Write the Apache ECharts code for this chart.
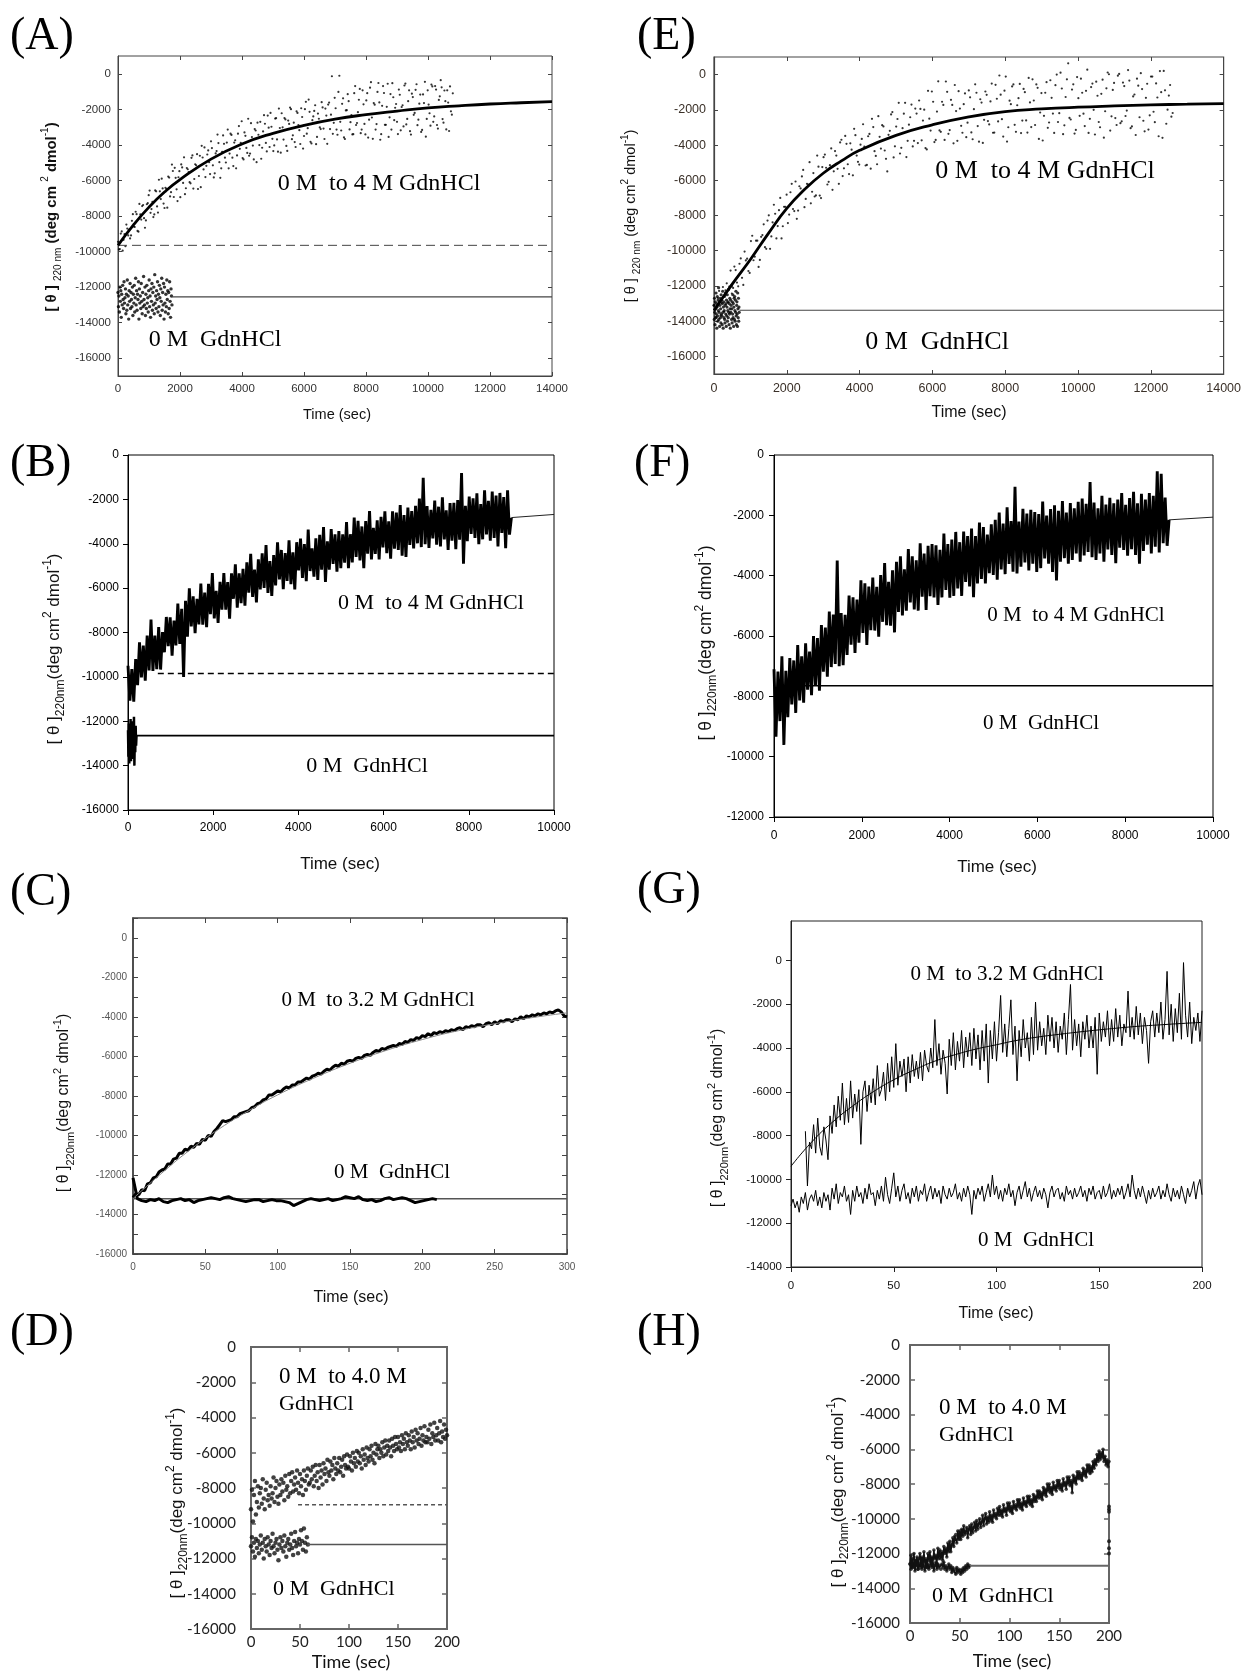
<!DOCTYPE html>
<html><head><meta charset="utf-8">
<script src="https://cdn.jsdelivr.net/npm/echarts@6/dist/echarts.min.js"></script>
<style>html,body{margin:0;padding:0;background:#fff}#c{width:1244px;height:1673px}</style>
</head><body><div id="c"></div>
<script>
// ================= DATA =================
const yTicks16 = [0,-2000,-4000,-6000,-8000,-10000,-12000,-14000,-16000];
const yTicks14 = [0,-2000,-4000,-6000,-8000,-10000,-12000,-14000];

// ---- Panel A ----
const aRiseStep = 60;
const aRiseV = [-9450,-9860,-8870,-9340,-9700,-8710,-8770,-9090,-7900,-8620,
-7900,-8880,-7910,-7440,-8120,-8250,-7280,-6570,-7610,-8060,
-6560,-7460,-5960,-7050,-6450,-7550,-6470,-5780,-6900,-5110,
-6930,-5850,-7160,-5480,-5100,-6140,-6770,-5300,-5530,-6160,
-4590,-5920,-5150,-6480,-4610,-4050,-5380,-5810,-4540,-4970,
-3800,-5150,-5600,-4350,-3900,-5850,-4390,-3940,-4990,-3140,
-4490,-3440,-5190,-3740,-4590,-2940,-3890,-4740,-3300,-4170,
-2530,-4490,-3560,-4820,-3190,-2750,-4010,-4780,-3240,-2810,
-4370,-3030,-2200,-3660,-4030,-2500,-4380,-3050,-2220,-3700,
-2570,-4340,-2820,-1990,-3460,-3840,-2110,-2880,-3950,-2430,
-3500,-1580,-3060,-2140,-3920,-2400,-1770,-3550,-2530,-3110,
-1890,-3670,-2350,-1730,-3110,-140,-2760,-1940,-3430,-110,
-3190,-1380,-3670,-2050,-1540,-2720,-3410,-1090,-2880,-2160,
-850,-3140,-1720,-3410,-1090,-2580,-470,-3660,-1740,-2830,
-520,-3710,-1800,-1080,-2870,-560,-2450,-3140,-1320,-1910,
-2700,-890,-3180,-1770,-660,-2850,-1540,-3230,-1120,-2310,
-900,-2890,-1680,-3270,-1160,-450,-2540,-1730,-2920,-710,
-2400,-890,-3080,-1270,-760,-2750,-1540,-930,-3220,-2110,
-1100];
// second interleaved sampling (t = 30, 90, 150, ...)
const aRise2T0 = 30;
const aRise2V = [-9880,-8990,-9950,-9020,-8480,-9090,-9260,-8270,-8590,-7760,
-8840,-7320,-8200,-7380,-8660,-7340,-6830,-7820,-7210,-7910,
-6610,-7810,-6610,-5900,-7300,-6410,-7530,-5840,-6660,-5470,
-5290,-6500,-5820,-6940,-5270,-4700,-6440,-5370,-6100,-4730,
-6460,-5090,-4520,-5750,-6380,-4710,-4140,-5180,-4310,-5640,
-4180,-5830,-4480,-3420,-4970,-5320,-3470,-4720,-3870,-5320,
-3370,-4720,-3870,-5320,-3370,-4220,-2670,-4820,-3490,-4450,
-4610,-2780,-4040,-3110,-4970,-3430,-2700,-4160,-2330,-3890,
-2350,-4120,-2980,-4350,-2520,-3690,-1960,-4440,-3010,-2490,
-4060,-2630,-1900,-3680,-2750,-4120,-2200,-3170,-1940,-4210,
-1990,-3370,-1450,-3830,-2610,-2090,-3960,-2240,-3020,-1600,
-3080,-1960,-3940,-1620,-2300,-3380,-1350,-3140,-1020,-2700,
-1690,-3580,-2060,-1150,-3130,-2320,-3400,-690,-2770,-1460,
-3340,-930,-2820,-1500,-3590,-780,-2460,-1650,-3140,-1020,
-1610,-3400,-690,-2870,-1860,-3550,-1140,-530,-2610,-1700,
-3390,-1180,-1870,-2960,-550,-2540,-930,-3420,-1310,-2200,
-590,-2580,-1170,-3160,-1650,-3540,-930,-2220,-610,-2700,
-690,-2880,-1470,-360,-2550,-940,-3130,-1620,-710,-2300];
const aZeroStep = 15;
const aZeroV = [-12300,-13100,-12500,-13400,-12000,-12800,-12200,-13700,-12400,-13000,
-11900,-12700,-13200,-11700,-12900,-12600,-12100,-13500,-12400,-13300,
-11600,-13000,-12500,-13800,-12200,-12800,-11800,-13200,-12300,-12700,
-13100,-12000,-13600,-12400,-12900,-11900,-13400,-12600,-11500,-13000,
-12200,-13300,-12400,-12700,-11700,-13800,-12100,-12900,-12500,-13200,
-11800,-12800,-13500,-12300,-13100,-11400,-12700,-13000,-12000,-13600,
-12400,-13200,-11900,-12900,-12600,-13400,-12200,-11600,-13100,-12500,
-13700,-12100,-12800,-11800,-13300,-12300,-13000,-12000,-13500,-11300,
-12900,-12500,-13200,-12200,-12700,-11700,-13400,-12400,-13100,-11900,
-12600,-13600,-12100,-12800,-11500,-13300,-12300,-13000,-11800,-13800,
-12000,-12900,-13400,-12400,-13100,-11600,-12700,-12200,-13500,-12300,
-13200,-11700,-12800,-13700,-12100,-12500,-13000];
const aFitT = [0,500,1000,1500,2000,3000,4000,5000,6000,7000,8000,9000,10000,11000,12000,13000,14000];
const aFitV = [-9650,-8500,-7500,-6650,-5950,-4800,-3950,-3350,-2900,-2550,-2300,-2100,-1920,-1800,-1700,-1630,-1570];
const aDashT = [0,14000], aDashV = [-9650,-9650];
const aSolidT = [1750,14000], aSolidV = [-12550,-12550];

// ---- Panel E ----
const eRiseStep = 70;
const eRiseV = [-13100,-13790,-12280,-12970,-13460,-11850,-12040,-12430,-10900,-11810,
-10740,-11540,-10050,-10450,-11260,-9150,-10340,-9430,-10520,-9110,
-9800,-8290,-9890,-8390,-7900,-8600,-7000,-8610,-7510,-8430,
-6680,-7630,-6070,-7720,-6460,-5410,-7060,-6240,-7310,-5590,
-6860,-5230,-7010,-4690,-5290,-6090,-4190,-5490,-4600,-6200,
-3700,-5320,-3930,-5650,-4260,-3080,-4600,-5110,-3650,-4090,
-5130,-3370,-2510,-4350,-5090,-3530,-2870,-4310,-5500,-3190,
-2130,-4070,-2520,-4480,-3040,-1600,-3760,-2420,-4080,-1930,
-3890,-1950,-2610,-4170,-920,-3180,-1540,-3710,-380,-3250,
-1720,-390,-3360,-1430,-3900,-2070,-940,-2910,-1680,-3550,
-900,-3280,-1960,-1030,-3810,-1590,-2570,-1150,-2830,-510,
-3290,-1370,-50,-2530,-910,-3800,-1480,-670,-2850,-1740,
-530,-2610,-1000,-3290,-1580,-270,-2860,-750,-2150,-3740,
-1030,-3020,-320,-2210,-600,-2690,110,-3380,-1270,640,
-2550,-550,-3140,-1340,-230,-2220,-920,-3310,-710,-2000,
-400,-2690,-1090,-3580,-780,20,-2370,-470,-2860,40,
-2650,-650,-2040,-340,-2940,-1130,-230,-2420,-820,-3220,
-520,-2310,-110,-2700,-1300,200,-3590,-890,-1990,-590,
-2180];
const eRise2T0 = 35;
const eRise2V = [-13790,-12680,-13670,-12060,-12250,-12940,-11130,-12110,-11100,-12020,
-10440,-11940,-10550,-11150,-9450,-10540,-9430,-10920,-9210,-8500,
-9890,-7990,-9190,-7390,-9300,-7700,-9300,-7510,-6820,-7950,
-6200,-7750,-8190,-6340,-5780,-7530,-6200,-4970,-6650,-6920,
-4600,-6870,-5250,-4540,-6240,-5140,-6540,-4340,-5350,-3850,
-5760,-3480,-5090,-3900,-5720,-3440,-4950,-3980,-2820,-5160,
-3500,-5340,-2980,-4620,-2360,-4200,-2940,-4780,-3420,-2260,
-4700,-2950,-1600,-4160,-2220,-4680,-2840,-1700,-3760,-2210,
-1470,-3730,-1990,-4250,-2500,-960,-3830,-2100,-3170,-1540,
-3710,-980,-3150,-1720,-590,-3760,-1930,-3300,-1070,-2730,
-1290,-3670,-550,-2920,-1400,-3880,-960,-2640,-1520,-3300,
-580,-2660,-1140,-3520,-110,-2990,-1680,-560,-3250,-1340,
-3320,-810,-2600,-190,-2980,-1470,-560,-3650,-1050,-2340,
-430,-2720,-1320,-3310,0,-2190,-790,-2880,-270,-2460,
-850,-3350,-140,-2340,-1030,-2920,280,-2510,-510,-3400,
-1200,-2990,-290,-2080,120,-3180,-870,-2470,-60,-2760,
-450,-2350,260,-3040,-1240,-3430,-630,80,-2620,-1320,
-3120,-110,-2110,-500,-3500,-1000,210,-2790,-1190,-2390];
const eZeroStep = 7;
const eZeroV = [-13100,-13900,-12700,-13500,-14200,-12900,-13300,-13800,-12400,-13600,
-13000,-14400,-13200,-12600,-13700,-14000,-12800,-13400,-12100,-13900,
-13500,-12900,-14300,-13100,-12700,-13800,-13300,-14100,-12500,-13600,
-12800,-13700,-14200,-13000,-12300,-13500,-14400,-13200,-12900,-13800,
-13400,-12600,-13900,-14100,-13100,-12400,-13600,-13000,-14300,-12800,
-13700,-13200,-12500,-14000,-13400,-12900,-13800,-12200,-13500,-14200,
-13000,-13600,-12700,-13300,-14400,-12800,-13500,-13100,-12000,-13900,
-13300,-14100,-12900,-13600,-12500,-13800,-13000,-14300,-13200,-12700,
-13900,-12600,-13400,-14000,-12800,-13500,-12300,-13700,-14200,-13100,
-12900,-13600,-14300,-12400,-13300,-13800,-12700,-14000,-13200,-13500];
const eFitT = [0,500,1000,1500,2000,2500,3000,3500,4000,5000,6000,7000,8000,9000,10000,11000,12000,13000,14000];
const eFitV = [-13400,-11900,-10500,-9000,-7600,-6500,-5600,-4900,-4300,-3450,-2850,-2400,-2100,-1950,-1850,-1780,-1720,-1680,-1650];
const eSolidT = [700,14000], eSolidV = [-13380,-13380];

// ---- Panel B ----
const bRiseStep = 45;
const bRiseV = [-9500,-11070,-9650,-11120,-9200,-10370,-8440,-10020,-8590,-10170,
-8140,-9710,-7420,-9730,-8140,-9650,-7760,-9670,-7980,-8890,
-7300,-8610,-7320,-9040,-7460,-8580,-6700,-8520,-6930,-10000,
-6570,-8190,-6010,-7730,-6370,-8030,-6480,-7640,-5790,-7650,
-6200,-7760,-5810,-7170,-5320,-7370,-6120,-7570,-5720,-6970,
-5320,-6970,-5730,-7380,-5330,-6480,-4930,-6880,-5330,-6680,
-5130,-6790,-4840,-6200,-4450,-6400,-5160,-6640,-4700,-6060,
-4430,-5990,-4060,-6220,-4780,-6350,-4510,-5880,-3940,-5610,
-4280,-6050,-4420,-5680,-3850,-5820,-4390,-6060,-3930,-5200,
-3770,-5540,-4020,-5690,-3360,-5230,-4210,-5480,-3750,-5630,
-3600,-5170,-3250,-5720,-3890,-5170,-3340,-4910,-3580,-5260,
-3430,-5100,-3580,-4850,-3020,-5100,-3570,-4840,-2820,-4590,
-2970,-4750,-3220,-5100,-2980,-4450,-2530,-4710,-3280,-4460,
-2940,-4710,-2790,-4160,-2540,-4420,-2990,-4670,-2540,-4220,
-2600,-4280,-2260,-4540,-2710,-4590,-2370,-4050,-2530,-4210,
-2290,-3980,-1960,-4150,-1030,-4020,-2300,-4190,-2470,-3760,
-2050,-4040,-2330,-4120,-1910,-3800,-2490,-4280,-2170,-3860,
-2150,-4240,-2030,-3820,-810,-4900,-2290,-3880,-1870,-3560,
-1950,-3740,-1730,-4020,-2210,-3800,-1590,-3580,-2070,-3860,
-1650,-3740,-1830,-4120,-1710,-3510,-1900,-4200,-1590,-3590,
-2820];
const bZeroStep = 10;
const bZeroV = [-12400,-13600,-12100,-13900,-12600,-13300,-11900,-13800,-12300,-13500,-12000,-13700,-12500,-13200,-11800,-14000,-12700,-13400,-12200,-13100,-12650];
const bFitT = [9000,10000], bFitV = [-2820,-2680];
const bDashT = [700,10000], bDashV = [-9850,-9850];
const bSolidT = [200,10000], bSolidV = [-12650,-12650];

// ---- Panel F ----
const fRiseStep = 45;
const fRiseV = [-7100,-9340,-7180,-8820,-6670,-9610,-7150,-8690,-6730,-8270,
-6810,-8550,-6300,-8140,-6670,-8210,-6240,-7780,-6520,-7960,
-6000,-7630,-6070,-7810,-5640,-7180,-5720,-7350,-5190,-7030,
-5290,-6930,-3500,-7000,-5240,-6970,-5300,-6630,-4660,-6290,
-4720,-6560,-4790,-6220,-4150,-5900,-4250,-6300,-4360,-5810,
-4060,-5820,-4370,-6020,-3980,-5530,-3580,-5640,-4200,-5660,
-3820,-5880,-3540,-5200,-3360,-5320,-3790,-5160,-3120,-4890,
-3360,-5120,-3490,-5160,-2930,-4700,-3270,-5140,-3010,-4680,
-2950,-4720,-2990,-4970,-3140,-4720,-2600,-4470,-2950,-4730,
-2800,-4670,-2550,-4420,-2890,-4670,-2540,-4210,-2690,-4360,
-2440,-4710,-2690,-4260,-2240,-4110,-2390,-4260,-2640,-3920,
-2300,-3980,-2150,-4130,-1910,-3790,-2270,-3950,-1730,-3610,
-2190,-3870,-1050,-3930,-2210,-3700,-1780,-3560,-1940,-3830,
-1820,-3600,-1890,-3880,-1960,-3750,-1540,-3430,-2010,-3600,
-1790,-3880,-1670,-4160,-1850,-3540,-1530,-3420,-1910,-3600,
-1590,-3480,-1770,-3260,-1550,-3540,-1440,-3330,-1620,-3210,
-900,-3390,-1580,-3480,-1770,-3260,-1350,-3540,-1640,-3130,
-1420,-3310,-1600,-3590,-1480,-3070,-1260,-3150,-1650,-3340,
-1430,-3120,-1220,-3310,-1600,-3600,-1290,-3180,-1480,-2970,
-1260,-3260,-1350,-3040,-540,-3230,-620,-2920,-1410,-3010,
-2150];
const fFitT = [9000,10000], fFitV = [-2150,-2060];
const fSolidT = [700,10000], fSolidV = [-7650,-7650];

// ---- Panel C ----
const cRiseStep = 2;
const cRiseV = [-13150,-12950,-13000,-12750,-12800,-12450,-12400,-12150,-12100,-11850,
-11750,-11700,-11450,-11450,-11200,-11150,-10900,-10900,-10700,-10750,
-10550,-10600,-10400,-10450,-10200,-10250,-10000,-10050,-9800,-9650,
-9450,-9250,-9300,-9250,-9200,-9050,-9050,-8900,-8850,-8800,
-8750,-8600,-8550,-8400,-8350,-8200,-8150,-7950,-7950,-7850,
-7750,-7800,-7650,-7550,-7600,-7450,-7450,-7300,-7300,-7200,
-7100,-7150,-7000,-6950,-6850,-6900,-6750,-6650,-6700,-6550,
-6450,-6500,-6350,-6400,-6250,-6200,-6250,-6100,-6050,-6100,
-5950,-5900,-5950,-5800,-5700,-5750,-5600,-5650,-5550,-5500,
-5450,-5500,-5350,-5400,-5250,-5300,-5150,-5200,-5050,-5100,
-4950,-5000,-4850,-4950,-4800,-4850,-4750,-4800,-4700,-4750,
-4650,-4700,-4600,-4550,-4650,-4500,-4550,-4450,-4500,-4400,
-4400,-4500,-4350,-4300,-4400,-4250,-4350,-4200,-4250,-4150,
-4150,-4250,-4100,-4150,-4000,-4100,-3950,-4000,-3900,-3950,
-3850,-3900,-3800,-3850,-3750,-3800,-3700,-3650,-3750,-3950,
-4000];
const cZeroStep = 3;
const cZeroV = [-12150,-13200,-13300,-13350,-13250,-13300,-13200,-13350,-13400,-13300,
-13250,-13200,-13300,-13250,-13400,-13300,-13250,-13200,-13150,-13200,
-13250,-13150,-13100,-13200,-13250,-13300,-13350,-13300,-13250,-13250,
-13350,-13300,-13250,-13300,-13300,-13350,-13400,-13550,-13450,-13350,
-13250,-13200,-13250,-13300,-13250,-13200,-13300,-13250,-13200,-13100,
-13150,-13200,-13100,-13250,-13300,-13250,-13350,-13300,-13200,-13150,
-13250,-13200,-13150,-13200,-13300,-13400,-13350,-13300,-13250,-13200,
-13250];
const cFitT = [0,20,40,60,80,100,125,150,175,200,225,250,275,300];
const cFitV = [-13200,-11900,-10700,-9650,-8750,-7950,-7100,-6350,-5700,-5150,-4700,-4350,-4050,-3800];
const cZeroFitT = [0,300], cZeroFitV = [-13200,-13200];

// ---- Panel G ----
const gRiseT0 = 7, gRiseStep = 1;
const gRiseV = [-7800,-10300,-8300,-8600,-7500,-8800,-7200,-8500,-8900,-7600,
-8200,-9100,-7100,-7900,-6600,-7600,-6200,-7300,-5600,-7500,
-6300,-7400,-5500,-7200,-6100,-6900,-5900,-8400,-6000,-5500,
-6900,-5700,-6500,-5400,-6600,-4800,-6200,-5900,-5100,-6400,
-4700,-6000,-4400,-5800,-3800,-5700,-4600,-5300,-4500,-6000,
-4400,-5600,-4300,-5300,-4600,-5400,-4200,-5500,-4100,-4800,
-5100,-4000,-4900,-2700,-4800,-3800,-5200,-4100,-4700,-6100,
-3600,-4800,-3300,-5000,-3700,-4600,-3200,-4900,-3500,-4400,
-3300,-4800,-3100,-4500,-3400,-5000,-3200,-4600,-2900,-5600,
-3200,-4500,-2800,-4600,-3300,-1600,-4200,-2900,-4400,-3100,
-1800,-4300,-3000,-5500,-3200,-4400,-2700,-4000,-3300,-4600,
-2600,-4300,-1900,-4100,-2800,-3900,-3100,-4300,-2500,-3700,
-2600,-4000,-2800,-4200,-3000,-3600,-2400,-4300,-2700,-1100,
-4100,-2700,-3900,-2900,-4400,-2800,-3600,-2500,-4000,-3000,
-4000,-2600,-5200,-2400,-3700,-2800,-3500,-2300,-3900,-2700,
-3700,-2200,-3500,-2500,-3900,-2900,-3300,-1400,-3500,-2600,
-3600,-2100,-3400,-2400,-3800,-2600,-3200,-4700,-2800,-2300,
-3500,-2400,-3300,-1900,-3600,-2700,-500,-3400,-2000,-3700,
-2200,-3300,-1500,-3600,-100,-2500,-3500,-1900,-3800,-2600,
-3200,-2400,-3700,-2300];
const gZeroStep = 1;
const gZeroV = [-11200,-10900,-11300,-11000,-11500,-10800,-11100,-10600,-11400,-10900,
-10700,-11000,-10500,-11200,-10800,-11300,-10600,-11000,-10700,-11400,
-10400,-10900,-10200,-11100,-10600,-10800,-10300,-11000,-10700,-11600,
-10500,-11000,-10300,-10800,-10600,-11100,-10400,-10900,-10200,-10700,
-10600,-11200,-10500,-10900,-10300,-11000,-9900,-10700,-11100,-10400,
-9700,-10800,-10300,-11000,-10500,-10200,-10900,-10600,-11100,-10400,
-10800,-10300,-11000,-10500,-10700,-10200,-11000,-10600,-10300,-10900,
-10400,-10800,-10500,-11100,-10300,-10700,-10900,-10400,-10800,-10600,
-10200,-10900,-10600,-11000,-10400,-10800,-10300,-10700,-11600,-10500,
-10900,-10400,-10700,-10300,-11000,-10600,-10200,-10800,-9800,-10700,
-10300,-10900,-10500,-11000,-10400,-10700,-10200,-10800,-10500,-11200,
-10600,-10300,-10900,-10500,-10100,-10800,-10400,-11000,-10600,-10300,
-10800,-10500,-10900,-10400,-10700,-11300,-10600,-10300,-10800,-10500,
-10400,-10900,-10600,-11000,-10300,-10700,-10500,-10900,-10400,-10800,
-10600,-10300,-10800,-10500,-11000,-10400,-10700,-10300,-10900,-10600,
-10500,-10900,-10300,-10800,-10600,-10200,-10900,-10500,-10800,-10400,
-10700,-10300,-10900,-10600,-10200,-10800,-9800,-10500,-10900,-10400,
-10800,-10300,-10700,-11100,-10500,-10900,-10400,-10800,-10600,-10300,
-10900,-10500,-10800,-10200,-10700,-11000,-10400,-10800,-10500,-10900,
-10300,-10700,-11100,-10400,-10800,-10500,-10100,-10900,-10300,-10000,
-10700];
const gFitT = [0,10,20,30,40,50,60,70,80,90,100,110,120,130,140,150,160,170,180,190,200];
const gFitV = [-9400,-8300,-7400,-6650,-6000,-5450,-5000,-4600,-4300,-4050,-3850,-3650,-3500,-3380,-3270,-3170,-3080,-3000,-2940,-2880,-2830];

// ---- Panel D ----
const dRiseStep = 1;
const dRiseV = [-9200,-8100,-9900,-8400,-7600,-9500,-8800,-7900,-9100,-8300,
-8000,-8900,-7500,-8600,-9200,-8100,-7700,-8700,-8400,-9000,
-7900,-8600,-8300,-7400,-8800,-8000,-7600,-8500,-8900,-7800,
-8400,-7500,-8200,-7700,-8700,-7300,-8100,-7900,-8500,-7200,
-8300,-7600,-7100,-8200,-7800,-7400,-8100,-7000,-7700,-8300,
-7200,-7900,-7500,-8400,-7000,-7600,-8100,-7300,-6900,-7800,
-7700,-7000,-7500,-6800,-7900,-7300,-6700,-7600,-7100,-8000,
-6700,-7400,-7000,-7800,-6600,-7200,-6900,-7600,-6400,-7100,
-7300,-6500,-7000,-6700,-7500,-6300,-6900,-7200,-6600,-7000,
-6300,-7100,-6800,-6400,-7300,-6200,-6700,-6900,-6100,-6800,
-6900,-6200,-6500,-7000,-6000,-6600,-6300,-6800,-5900,-6500,
-6000,-6600,-6200,-6900,-5800,-6400,-6100,-6700,-5700,-6300,
-6500,-5800,-6200,-5600,-6400,-6000,-6600,-5500,-6100,-5800,
-5600,-6300,-5800,-6000,-5400,-6200,-5700,-5300,-6100,-5600,
-5900,-5300,-5700,-6200,-5200,-5600,-5900,-5100,-5500,-5800,
-5100,-5700,-5400,-5900,-5000,-5500,-5200,-5800,-4900,-5400,
-5600,-5000,-5300,-5800,-4800,-5400,-5100,-5700,-4700,-5300,
-4900,-5500,-5200,-4600,-5600,-5000,-5300,-4500,-5400,-5100,
-5400,-4700,-5200,-4400,-5500,-4900,-5100,-4300,-5300,-5000,
-4600,-5300,-4900,-4200,-5400,-4800,-5100,-4400,-5200,-4700,
-5000];
const dZeroStep = 1;
const dZeroV = [-11300,-10800,-11600,-11100,-11900,-10900,-11400,-11000,-11700,-11200,
-10700,-11500,-11100,-12000,-10900,-11300,-11600,-10800,-11200,-11800,
-11000,-11400,-10600,-11300,-11700,-11100,-10900,-11500,-12100,-11200,
-10800,-11400,-11000,-11600,-10700,-11300,-11900,-11100,-10900,-11500,
-11200,-10600,-11400,-11800,-11000,-10500,-11300,-11100,-11700,-10900,
-11200,-10400,-11000,-11500,-10300,-11100,-11600,-10800,-11200];
const dDashT = [48,200], dDashV = [-8950,-8950];
const dSolidT = [58,200], dSolidV = [-11200,-11200];

// ---- Panel H ----
const hRiseStep = 1;
const hRiseV = [-12600,-12100,-12800,-12300,-12000,-12700,-12400,-12200,-12900,-12300,
-12000,-12600,-12200,-12700,-11900,-12500,-12300,-12800,-12000,-12400,
-11900,-12500,-12200,-12600,-11800,-12300,-12100,-12600,-11700,-12300,
-11800,-12300,-11900,-12400,-11600,-12000,-11700,-12200,-11400,-11900,
-11300,-11900,-11500,-11100,-11600,-11000,-10900,-11400,-10700,-11200,
-10700,-11200,-10600,-11000,-10400,-10900,-10800,-10500,-11100,-10600,
-10400,-10900,-10300,-10800,-10500,-10200,-10700,-10100,-10600,-10300,
-10000,-10500,-10200,-9800,-10400,-10000,-9700,-10300,-9900,-10200,
-9600,-10100,-9800,-10200,-9500,-9900,-9700,-10000,-9400,-9800,
-9300,-9800,-9500,-9900,-9200,-9600,-9400,-9800,-9100,-9500,
-9100,-9600,-9300,-9700,-9000,-9400,-9200,-9500,-8900,-9300,
-8900,-9400,-9100,-9500,-8800,-9200,-9000,-9300,-8700,-9100,
-8700,-9200,-8900,-9300,-8600,-9000,-8700,-9000,-8400,-8800,
-8400,-8800,-8500,-8900,-8200,-8600,-8300,-8700,-8000,-8400,
-8000,-8500,-8200,-8600,-7900,-8300,-8100,-8400,-7800,-8200,
-7800,-8300,-8000,-8400,-7700,-8100,-7900,-8300,-7600,-8000,
-7600,-8100,-7800,-8500,-7500,-7900,-7600,-8000,-7300,-7700,
-7300,-7700,-7400,-7800,-7100,-7500,-7200,-7600,-6900,-7300,
-6900,-7400,-7000,-7300,-6700,-7100,-6600,-6900,-6300,-6700,
-6100,-6600,-6200,-6500,-6000,-6700,-6400,-6900,-6600,-7000,
-6700];
const hZeroStep = 1;
const hZeroV = [-12600,-12900,-12400,-12800,-12500,-13000,-12700,-12400,-12900,-12600,
-12800,-12500,-12900,-12600,-12700,-13000,-12500,-12800,-12600,-12900,
-12700,-12400,-12800,-12600,-13000,-12700,-12500,-12900,-12600,-12800,
-12700,-12900,-12600,-12800,-12500,-12900,-12700,-13000,-12800,-12600,
-12900,-12700,-13100,-12800,-13000,-12900,-13200,-12800,-13100,-12900,
-13000,-13200,-12900,-13100,-12800,-13000,-12700,-12900,-12600,-12800,
-12700];
const hEdgeT = [200,200,200,200,200,200];
const hEdgeV = [-9300,-9450,-9600,-11300,-11700,-12000];
const hSolidT = [60,200], hSolidV = [-12700,-12700];

// ================= BUILD =================
const SANS = '"Liberation Sans", Arial, Helvetica, sans-serif';
const SERIF = '"Liberation Serif", "Times New Roman", serif';
const HUM = 'Lato, "Liberation Sans", sans-serif';

function seq(t0, step, vals){ return vals.map((v,i)=>[t0+i*step, v]); }
function zip(ts, vs){ return ts.map((t,i)=>[t, vs[i]]); }
const fmt = v => String(v);

const grids=[], xAxes=[], yAxes=[], series=[], graphics=[];

function addPanel(o){
  const gi = grids.length;
  grids.push({left:o.left, top:o.top, width:o.width, height:o.height, show:true,
    borderColor:o.frame, borderWidth:o.fw, backgroundColor:'transparent'});
  const lab = {fontFamily:o.font, fontSize:o.ls, color:o.lc, formatter:fmt};
  const tick = {show:true, inside:o.inside, length:o.tl, lineStyle:{color:o.frame, width:o.tw||1}};
  const xi = xAxes.length;
  xAxes.push({type:'value', gridIndex:gi, position:'bottom', min:0, max:o.xMax, interval:o.xInt,
    splitLine:{show:false}, axisLine:{show:true, onZero:false, lineStyle:{color:o.frame, width:o.fw}},
    axisTick:Object.assign({}, tick), axisLabel:Object.assign({margin:o.xm, showMinLabel:true, showMaxLabel:true}, lab)});
  const yi = yAxes.length;
  const ya = {type:'value', gridIndex:gi, position:'left', min:o.yMin, max:o.yMax,
    splitLine:{show:false}, axisLine:{show:true, onZero:false, lineStyle:{color:o.frame, width:o.fw}},
    axisTick:Object.assign({}, tick), axisLabel:Object.assign({margin:o.ym}, lab)};
  if (o.yInt) ya.interval = o.yInt;
  if (o.yLabels) ya.axisLabel.customValues = o.yLabels;
  if (o.yTicks) ya.axisTick.customValues = o.yTicks;
  yAxes.push(ya);
  if (o.mirror){
    xAxes.push({type:'value', gridIndex:gi, position:'top', min:0, max:o.xMax, interval:o.xInt,
      splitLine:{show:false}, axisLine:{show:false, onZero:false}, axisTick:Object.assign({}, tick), axisLabel:{show:false}});
    const yb = {type:'value', gridIndex:gi, position:'right', min:o.yMin, max:o.yMax,
      splitLine:{show:false}, axisLine:{show:false, onZero:false}, axisTick:Object.assign({}, tick), axisLabel:{show:false}};
    if (o.yInt) yb.interval = o.yInt;
    if (o.yTicks) yb.axisTick.customValues = o.yTicks;
    yAxes.push(yb);
  }
  return {xi, yi};
}
function line(ax, data, ls, extra){
  series.push(Object.assign({type:'line', xAxisIndex:ax.xi, yAxisIndex:ax.yi, data:data,
    symbol:'none', showSymbol:false, silent:true, animation:false, lineStyle:ls}, extra||{}));
}
function dots(ax, data, size, color){
  series.push({type:'scatter', xAxisIndex:ax.xi, yAxisIndex:ax.yi, data:data, symbol:'circle',
    symbolSize:size, silent:true, animation:false, itemStyle:{color:color}});
}
function txt(x, y, text, o){
  graphics.push({type:'text', x:x, y:y, silent:true, z:100,
    style:Object.assign({text:text, fontFamily:SERIF, fontSize:22, fill:'#000', align:'center', verticalAlign:'middle'}, o||{})});
}
function yTitle(x, y, size, weight, variant){
  const s = Math.round(size*0.68), LH = size+8;
  const base = {fontFamily:SANS, fill:'#111', color:'#111'};
  const rich = {
    m:Object.assign({fontSize:size, fontWeight:weight, lineHeight:LH, verticalAlign:'middle'}, base),
    b:Object.assign({fontSize:s, lineHeight:s, verticalAlign:'bottom'}, base),
    t:Object.assign({fontSize:s, lineHeight:s, verticalAlign:'top'}, base)
  };
  const text = variant==='A' ? '{m|[ θ ] }{b|220 nm}{m| (deg cm }{t|2}{m| dmol}{t|-1}{m|)}'
             : variant==='E' ? '{m|[ θ ] }{b|220 nm}{m| (deg cm}{t|2}{m| dmol}{t|-1}{m|)}'
             : '{m|[ θ ]}{b|220nm}{m|(deg cm}{t|2}{m| dmol}{t|-1}{m|)}';
  graphics.push({type:'text', x:x, y:y, rotation:Math.PI/2, silent:true, z:100,
    style:{text:text, rich:rich, align:'center', verticalAlign:'middle', fontFamily:SANS, fontSize:size, fill:'#111'}});
}

// ---- Panel A ----
const A = addPanel({left:118, top:56, width:434, height:320, xMax:14000, xInt:2000, yMin:-17000, yMax:1000,
  yLabels:yTicks16, yTicks:yTicks16, frame:'#444', fw:1, inside:true, tl:4, font:SANS, ls:11.5, lc:'#333', xm:7, ym:7, mirror:true});
line(A, zip(aDashT, aDashV), {color:'#444', width:1, type:[9,5]});
line(A, zip(aSolidT, aSolidV), {color:'#444', width:1.2});
dots(A, seq(0, aZeroStep, aZeroV), 3.4, '#000');
dots(A, seq(0, aRiseStep, aRiseV), 2.2, '#000');
dots(A, seq(aRise2T0, aRiseStep, aRise2V), 2.2, '#000');
line(A, zip(aFitT, aFitV), {color:'#000', width:2.8}, {smooth:true});

// ---- Panel E ----
const E = addPanel({left:714, top:57, width:512, height:317, xMax:14000, xInt:2000, yMin:-17000, yMax:1000,
  yLabels:yTicks16, yTicks:yTicks16, frame:'#444', fw:1.2, inside:true, tl:4, font:SANS, ls:12.5, lc:'#3a3028', xm:8, ym:8, mirror:true});
line(E, zip(eSolidT, eSolidV), {color:'#444', width:1.2});
dots(E, seq(0, eZeroStep, eZeroV), 3.2, '#000');
dots(E, seq(0, eRiseStep, eRiseV), 2.2, '#000');
dots(E, seq(eRise2T0, eRiseStep, eRise2V), 2.2, '#000');
line(E, zip(eFitT, eFitV), {color:'#000', width:2.8}, {smooth:true});

// ---- Panel B ----
const B = addPanel({left:128, top:455, width:426, height:355, xMax:10000, xInt:2000, yMin:-16000, yMax:0, yInt:2000,
  frame:'#000', fw:1, inside:false, tl:5, font:SANS, ls:12, lc:'#000', xm:12, ym:9});
line(B, zip(bDashT, bDashV), {color:'#000', width:1.5, type:[6,4]});
line(B, zip(bSolidT, bSolidV), {color:'#000', width:1.6});
line(B, seq(0, bZeroStep, bZeroV), {color:'#000', width:2.5});
line(B, seq(0, bRiseStep, bRiseV), {color:'#000', width:2.9});
line(B, zip(bFitT, bFitV), {color:'#222', width:1});

// ---- Panel F ----
const F = addPanel({left:774, top:455, width:439, height:362, xMax:10000, xInt:2000, yMin:-12000, yMax:0, yInt:2000,
  frame:'#000', fw:1, inside:false, tl:5, font:SANS, ls:12, lc:'#000', xm:13, ym:10});
line(F, zip(fSolidT, fSolidV), {color:'#000', width:1.6});
line(F, seq(0, fRiseStep, fRiseV), {color:'#000', width:2.9});
line(F, zip(fFitT, fFitV), {color:'#222', width:1});

// ---- Panel C ----
const C = addPanel({left:133, top:918, width:434, height:336, xMax:300, xInt:50, yMin:-16000, yMax:1000, yInt:1000,
  yLabels:yTicks16, frame:'#444', fw:1.5, inside:true, tl:5, font:SANS, ls:10, lc:'#555', xm:8, ym:6, mirror:true});
line(C, zip(cZeroFitT, cZeroFitV), {color:'#555', width:1.5});
line(C, seq(0, cZeroStep, cZeroV), {color:'#000', width:3});
line(C, seq(0, cRiseStep, cRiseV), {color:'#000', width:3});
line(C, zip(cFitT, cFitV), {color:'#888', width:1}, {smooth:true});

// ---- Panel G ----
const G = addPanel({left:791, top:921, width:411, height:346, xMax:200, xInt:50, yMin:-14000, yMax:1800,
  yLabels:yTicks14, yTicks:yTicks14, frame:'#222', fw:1, inside:false, tl:5, font:SANS, ls:11.5, lc:'#111', xm:13, ym:9});
line(G, seq(0, gZeroStep, gZeroV), {color:'#000', width:1});
line(G, seq(gRiseT0, gRiseStep, gRiseV), {color:'#000', width:1});
line(G, zip(gFitT, gFitV), {color:'#000', width:1}, {smooth:true});

// ---- Panel D ----
const D = addPanel({left:251, top:1347, width:196, height:282, xMax:200, xInt:50, yMin:-16000, yMax:0, yInt:2000,
  frame:'#666', fw:2, inside:true, tl:5, tw:1.5, font:HUM, ls:15, lc:'#222', xm:6, ym:15, mirror:true});
line(D, zip(dDashT, dDashV), {color:'#555', width:1.5, type:[4,3]});
line(D, zip(dSolidT, dSolidV), {color:'#555', width:1.5});
dots(D, seq(0, dZeroStep, dZeroV), 4.5, '#111');
dots(D, seq(0, dRiseStep, dRiseV), 4.5, '#111');

// ---- Panel H ----
const H = addPanel({left:910, top:1345, width:199, height:278, xMax:200, xInt:50, yMin:-16000, yMax:0, yInt:2000,
  frame:'#666', fw:2, inside:true, tl:5, tw:1.5, font:HUM, ls:15, lc:'#222', xm:6, ym:10, mirror:true});
line(H, zip(hSolidT, hSolidV), {color:'#666', width:2});
line(H, seq(0, hZeroStep, hZeroV), {color:'#111', width:1.5});
dots(H, seq(0, hZeroStep, hZeroV), 3.5, '#111');
line(H, seq(0, hRiseStep, hRiseV), {color:'#111', width:1.5});
dots(H, seq(0, hRiseStep, hRiseV), 3.5, '#111');
dots(H, zip(hEdgeT, hEdgeV), 4, '#111');

// ---- Panel letters ----
const PL = {fontFamily:SERIF, fontSize:46, align:'left', verticalAlign:'middle'};
txt(10, 37, '(A)', PL); txt(10, 464, '(B)', PL); txt(10, 893, '(C)', PL); txt(10, 1333, '(D)', PL);
txt(637, 37, '(E)', PL); txt(634, 464, '(F)', PL); txt(637, 891, '(G)', PL); txt(637, 1333, '(H)', PL);

// ---- Annotations ----
txt(379, 184, '0 M  to 4 M GdnHCl', {fontSize:24});
txt(215, 340, '0 M  GdnHCl', {fontSize:24});
txt(1045, 171, '0 M  to 4 M GdnHCl', {fontSize:26});
txt(937, 342, '0 M  GdnHCl', {fontSize:26});
txt(431, 603, '0 M  to 4 M GdnHCl', {fontSize:22});
txt(367, 766, '0 M  GdnHCl', {fontSize:22});
txt(1076, 615, '0 M  to 4 M GdnHCl', {fontSize:21});
txt(1041, 723, '0 M  GdnHCl', {fontSize:21});
txt(378, 1000, '0 M  to 3.2 M GdnHCl', {fontSize:21});
txt(392, 1172, '0 M  GdnHCl', {fontSize:21});
txt(1007, 974, '0 M  to 3.2 M GdnHCl', {fontSize:21});
txt(1036, 1240, '0 M  GdnHCl', {fontSize:21});
txt(279, 1377, '0 M  to 4.0 M', {fontSize:23, align:'left'});
txt(279, 1404, 'GdnHCl', {fontSize:22, align:'left'});
txt(273, 1589, '0 M  GdnHCl', {fontSize:22, align:'left'});
txt(939, 1408, '0 M  to 4.0 M', {fontSize:23, align:'left'});
txt(939, 1435, 'GdnHCl', {fontSize:22, align:'left'});
txt(932, 1596, '0 M  GdnHCl', {fontSize:22, align:'left'});

// ---- Axis titles ----
const TT = {fontFamily:SANS, fill:'#111'};
txt(337, 415, 'Time (sec)', Object.assign({fontSize:14.5}, TT));
txt(969, 413, 'Time (sec)', Object.assign({fontSize:16}, TT));
txt(340, 864, 'Time (sec)', Object.assign({fontSize:17}, TT));
txt(997, 867, 'Time (sec)', Object.assign({fontSize:17}, TT));
txt(351, 1298, 'Time (sec)', Object.assign({fontSize:16}, TT));
txt(996, 1314, 'Time (sec)', Object.assign({fontSize:16}, TT));
txt(351, 1662, 'Time (sec)', {fontFamily:HUM, fontSize:18, fill:'#111'});
txt(1012, 1661, 'Time (sec)', {fontFamily:HUM, fontSize:18, fill:'#111'});

yTitle(52, 217, 15, 'bold', 'A');
yTitle(631, 216, 14.5, 'normal', 'E');
yTitle(54, 649, 17, 'normal', 'B');
yTitle(706, 643, 17.5, 'normal', 'B');
yTitle(64, 1103, 16, 'normal', 'B');
yTitle(718, 1118, 16, 'normal', 'B');
yTitle(177, 1503, 17, 'normal', 'B');
yTitle(838, 1492, 17, 'normal', 'B');

const chart = echarts.init(document.getElementById('c'), null, {renderer:'canvas', width:1244, height:1673});
chart.setOption({animation:false, backgroundColor:'#fff', grid:grids, xAxis:xAxes, yAxis:yAxes, series:series, graphic:{elements:graphics}});
</script></body></html>
